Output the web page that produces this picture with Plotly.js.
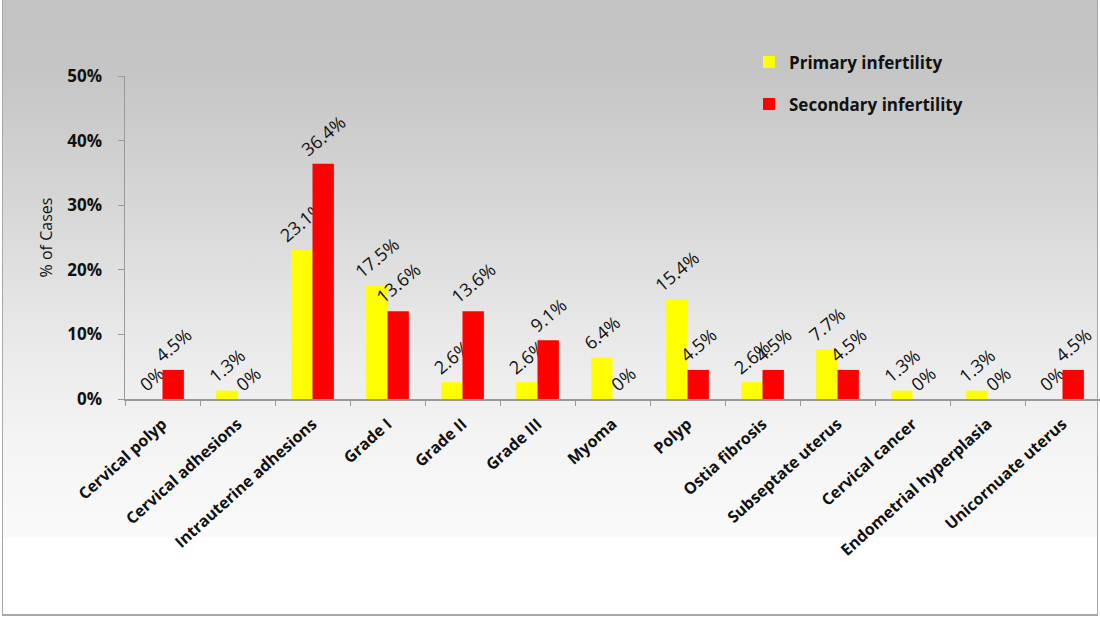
<!DOCTYPE html>
<html>
<head>
<meta charset="utf-8">
<script src="https://cdn.plot.ly/plotly-3.0.1.min.js"></script>
<style>
  html, body { margin: 0; padding: 0; width: 1100px; height: 619px; overflow: hidden; background: #ffffff; }
  #bg {
    position: absolute; left: 2px; top: 0px; width: 1094px; height: 614px;
    border-left: 1px solid #a8a8a8; border-right: 1px solid #a8a8a8; border-bottom: 2px solid #a8a8a8;
    background: linear-gradient(to bottom, #c3c3c3 0px, #c5c5c5 70px, #d6d6d6 200px, #e8e8e8 330px, #f4f4f4 440px, #fafafa 537px, #ffffff 538px, #ffffff 100%);
  }
  #chart { position: absolute; left: 0; top: 0; width: 1100px; height: 619px; }
</style>
</head>
<body>
<div id="bg"></div>
<div id="chart"></div>
<script>
const categories = ["Cervical polyp", "Cervical adhesions", "Intrauterine adhesions", "Grade I", "Grade II", "Grade III", "Myoma", "Polyp", "Ostia fibrosis", "Subseptate uterus", "Cervical cancer", "Endometrial hyperplasia", "Unicornuate uterus"];
const primaryValues = [0, 1.3, 23.1, 17.5, 2.6, 2.6, 6.4, 15.4, 2.6, 7.7, 1.3, 1.3, 0];
const secondaryValues = [4.5, 0, 36.4, 13.6, 13.6, 9.1, 0, 4.5, 4.5, 4.5, 0, 0, 4.5];
const seriesNames = ["Primary infertility", "Secondary infertility"];
const yTickVals = [0, 10, 20, 30, 40, 50];
const yTickText = ["0%", "10%", "20%", "30%", "40%", "50%"];

const fmt = v => v + "%";
const labelFont = {family: "Open Sans, sans-serif", size: 18, color: "#111111"};

const traces = [
  {
    type: "bar", name: seriesNames[0], x: categories, y: primaryValues,
    marker: {color: "#ffff00"}, legendgroup: "a",
    text: primaryValues.map(fmt), textposition: "outside", textangle: -40,
    textfont: labelFont, cliponaxis: false, constraintext: "none", hoverinfo: "x+y"
  },
  {
    type: "bar", name: seriesNames[1], x: categories, y: secondaryValues,
    marker: {color: "#ff0000"}, legendgroup: "b",
    text: secondaryValues.map(fmt), textposition: "outside", textangle: -40,
    textfont: labelFont, cliponaxis: false, constraintext: "none", hoverinfo: "x+y"
  }
];

const layout = {
  width: 1100, height: 619,
  margin: {l: 125, r: 0, t: 76, b: 220},
  paper_bgcolor: "rgba(0,0,0,0)",
  plot_bgcolor: "rgba(0,0,0,0)",
  barmode: "group", bargap: 0.43, bargroupgap: 0,
  font: {family: "Open Sans, sans-serif", color: "#111"},
  showlegend: true,
  legend: {
    x: 0.64, y: 1.098, xanchor: "left", yanchor: "top",
    bgcolor: "rgba(0,0,0,0)", tracegroupgap: 17, itemwidth: 30,
    font: {family: "Open Sans, sans-serif", size: 17, color: "#111", weight: "bold"}
  },
  xaxis: {
    type: "category", tickangle: -42, showgrid: false,
    showline: true, linecolor: "#999", linewidth: 1.5,
    ticks: "outside", tickson: "boundaries", ticklen: 5, tickcolor: "#999",
    ticklabelstandoff: 8,
    tickfont: {family: "Open Sans, sans-serif", size: 16, color: "#111", weight: "bold"},
    automargin: false
  },
  yaxis: {
    range: [0, 50], tickvals: yTickVals, ticktext: yTickText, showgrid: false, zeroline: false,
    showline: true, linecolor: "#999", linewidth: 1.5,
    ticks: "outside", ticklen: 6, tickcolor: "#999", ticklabelstandoff: 12,
    tickfont: {family: "Open Sans, sans-serif", size: 17, color: "#111", weight: "bold"},
    title: {text: "% of Cases", font: {family: "Open Sans, sans-serif", size: 16, color: "#111"}, standoff: 10},
    automargin: false
  }
};

Plotly.newPlot("chart", traces, layout, {displayModeBar: false, staticPlot: true});
</script>
</body>
</html>
